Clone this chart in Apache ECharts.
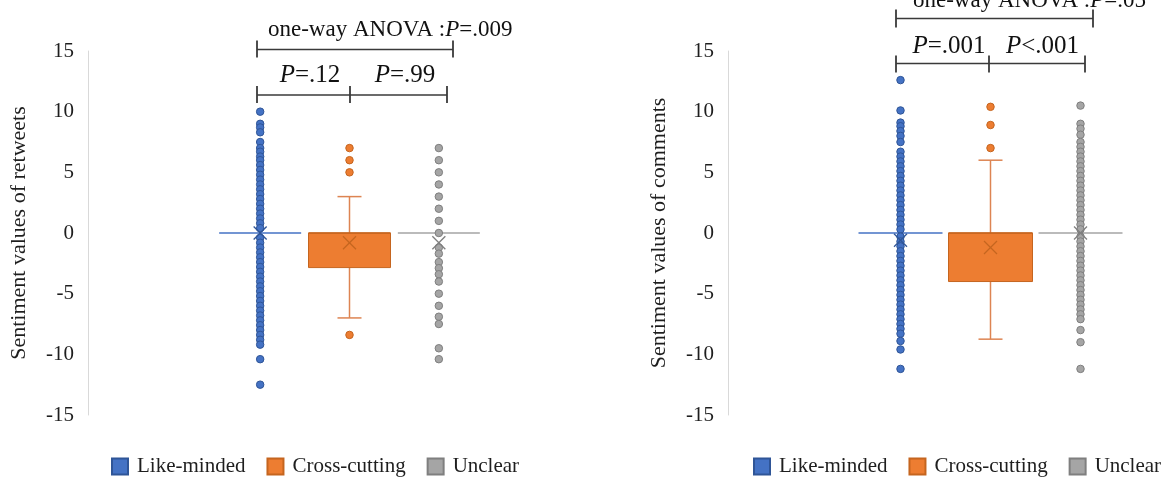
<!DOCTYPE html>
<html><head><meta charset="utf-8">
<script src="https://cdn.jsdelivr.net/npm/echarts@6/dist/echarts.min.js"></script>
<style>html,body{margin:0;padding:0;background:#fff}#c{width:1163px;height:480px}</style>
</head><body><div id="c"></div>
<script>
// ---------- data ----------
const groups = ['Like-minded', 'Cross-cutting', 'Unclear'];
const yTicks = [-15, -10, -5, 0, 5, 10, 15];

// Retweets panel: box statistics [min, Q1, median, Q3, max] per group, and means
const retweetStats = [[0, 0, 0, 0, 0], [-7, -2.85, 0, 0, 3], [0, 0, 0, 0, 0]];
const retweetMeans = [0, -0.8, -0.8];
const retweetLike = [10, 9, 8.7, 8.3, 7.5, 7, 6.7, 6.3, 6, 5.6, 5.2, 4.8, 4.4, 4, 3.6, 3.2, 2.8, 2.4, 2, 1.6, 1.2, 0.8, 0.4,
  -0.4, -0.8, -1.2, -1.6, -2, -2.4, -2.8, -3.2, -3.6, -4, -4.4, -4.8, -5.2, -5.6, -6, -6.4, -6.8, -7.2, -7.6, -8, -8.4, -8.8, -9.2, -10.4, -12.5];
const retweetCross = [7, 6, 5, -8.4];
const retweetUnclear = [7, 6, 5, 4, 3, 2, 1, 0, -1.2, -1.7, -2.4, -2.9, -3.4, -4, -5, -6, -6.9, -7.5, -9.5, -10.4];

// Comments panel
const commentStats = [[0, 0, 0, 0, 0], [-8.75, -4, 0, 0, 6], [0, 0, 0, 0, 0]];
const commentMeans = [-0.6, -1.2, 0];
const commentLike = [12.6, 10.1, 9.1, 8.8, 8.4, 8, 7.5, 6.7, 6.3, 5.9, 5.5, 5.1, 4.7, 4.3, 3.9, 3.5, 3.1, 2.7, 2.3, 1.9, 1.5, 1.1, 0.7, 0.3,
  -0.3, -0.7, -1.1, -1.5, -1.9, -2.3, -2.7, -3.1, -3.5, -3.9, -4.3, -4.7, -5.1, -5.5, -5.9, -6.3, -6.7, -7.1, -7.5, -7.9, -8.3, -8.9, -9.6, -11.2];
const commentCross = [10.4, 8.9, 7];
const commentUnclear = [10.5, 9, 8.6, 8.1, 7.5, 7.1, 6.7, 6.3, 5.9, 5.5, 5.1, 4.7, 4.3, 3.9, 3.5, 3.1, 2.7, 2.3, 1.9, 1.5, 1.1, 0.7, 0.3,
  -0.3, -0.7, -1.1, -1.5, -1.9, -2.3, -2.7, -3.1, -3.5, -3.9, -4.3, -4.7, -5.1, -5.5, -5.9, -6.3, -6.7, -7.1, -8, -9, -11.2];

const yTitles = ['Sentiment values of retweets', 'Sentiment values of comments'];

// ---------- styles ----------
const FONT = 'Liberation Serif';
const fill = ['#4472C4', '#ED7D31', '#A5A5A5'];
const dark = ['#2F5597', '#C5651F', '#7F7F7F'];
const whisk = ['#4472C4', '#DD8452', '#A5A5A5'];
const TXT = '#1e1e1e';

const panels = [
  { stats: retweetStats, means: retweetMeans, pts: [retweetLike, retweetCross, retweetUnclear], gridLeft: 215.5, gridWidth: 268, boxW: 82, axisX: 88 },
  { stats: commentStats, means: commentMeans, pts: [commentLike, commentCross, commentUnclear], gridLeft: 855.5, gridWidth: 270, boxW: 84, axisX: 728 }
];

function boxRenderer(boxW, capW) {
  return function (params, api) {
    const i = params.dataIndex;
    const c = api.value(0);
    const X = api.coord([c, 0])[0];
    const Y = v => api.coord([c, v])[1];
    const ymin = Y(api.value(1)), yq1 = Y(api.value(2)), ymed = Y(api.value(3)), yq3 = Y(api.value(4)), ymax = Y(api.value(5));
    const ch = [];
    if (ymax < yq3 - 0.5) {
      ch.push({ type: 'line', shape: { x1: X, y1: yq3, x2: X, y2: ymax }, style: { stroke: whisk[i], lineWidth: 1.5 } });
      ch.push({ type: 'line', shape: { x1: X - capW / 2, y1: ymax, x2: X + capW / 2, y2: ymax }, style: { stroke: whisk[i], lineWidth: 1.5 } });
    }
    if (ymin > yq1 + 0.5) {
      ch.push({ type: 'line', shape: { x1: X, y1: yq1, x2: X, y2: ymin }, style: { stroke: whisk[i], lineWidth: 1.5 } });
      ch.push({ type: 'line', shape: { x1: X - capW / 2, y1: ymin, x2: X + capW / 2, y2: ymin }, style: { stroke: whisk[i], lineWidth: 1.5 } });
    }
    if (yq1 - yq3 > 0.5) {
      ch.push({ type: 'rect', shape: { x: X - boxW / 2, y: yq3, width: boxW, height: yq1 - yq3 }, style: { fill: fill[i], stroke: dark[i], lineWidth: 1 } });
    }
    ch.push({ type: 'line', shape: { x1: X - boxW / 2, y1: ymed, x2: X + boxW / 2, y2: ymed }, style: { stroke: yq1 - yq3 > 0.5 ? dark[i] : fill[i], lineWidth: 1.5 } });
    return { type: 'group', children: ch };
  };
}
function meanRenderer(params, api) {
  const i = params.dataIndex;
  const p = api.coord([api.value(0), api.value(1)]);
  const h = 6.5;
  return { type: 'group', children: [
    { type: 'line', shape: { x1: p[0] - h, y1: p[1] - h, x2: p[0] + h, y2: p[1] + h }, style: { stroke: dark[i], lineWidth: 1.3 } },
    { type: 'line', shape: { x1: p[0] - h, y1: p[1] + h, x2: p[0] + h, y2: p[1] - h }, style: { stroke: dark[i], lineWidth: 1.3 } }
  ] };
}

const grid = [], xAxis = [], yAxis = [], series = [];
panels.forEach((P, k) => {
  grid.push({ left: P.gridLeft, width: P.gridWidth, top: 51, height: 364 });
  xAxis.push({ type: 'category', gridIndex: k, data: groups, axisLine: { show: false }, axisTick: { show: false }, axisLabel: { show: false }, splitLine: { show: false } });
  yAxis.push({
    type: 'value', gridIndex: k, min: yTicks[0], max: yTicks[yTicks.length - 1], interval: 5,
    offset: P.gridLeft - P.axisX,
    axisLine: { show: true, lineStyle: { color: '#D9D9D9', width: 1 } },
    axisTick: { show: false }, splitLine: { show: false },
    axisLabel: { color: TXT, fontFamily: FONT, fontSize: 21, margin: 14 },
    name: yTitles[k], nameLocation: 'middle', nameRotate: 90, nameGap: 58,
    nameTextStyle: { color: TXT, fontFamily: FONT, fontSize: 22 }
  });
  series.push({
    type: 'custom', xAxisIndex: k, yAxisIndex: k, z: 2, silent: true,
    renderItem: boxRenderer(P.boxW, 24),
    encode: { x: 0, y: [1, 2, 3, 4, 5] },
    data: P.stats.map((s, i) => [i].concat(s))
  });
  groups.forEach((g, i) => {
    series.push({
      type: 'scatter', name: g, xAxisIndex: k, yAxisIndex: k, z: 3,
      symbol: 'circle', symbolSize: 7.5,
      itemStyle: { color: fill[i], borderColor: dark[i], borderWidth: 1, opacity: 1 },
      data: P.pts[i].map(v => [i, v])
    });
  });
  series.push({
    type: 'custom', xAxisIndex: k, yAxisIndex: k, z: 4, silent: true,
    renderItem: meanRenderer, encode: { x: 0, y: 1 },
    data: P.means.map((m, i) => [i, m])
  });
});

const legendBase = {
  data: groups, top: 456, padding: 0, width: 420, icon: 'rect', itemWidth: 16, itemHeight: 16, itemGap: 21,
  textStyle: { fontFamily: FONT, fontSize: 21, color: TXT, padding: [0, 0, 0, 4] }
};

// ---------- annotations ----------
const LC = '#3a3a3a';
function hline(x1, x2, y) { return { type: 'line', shape: { x1, y1: y, x2, y2: y }, style: { stroke: LC, lineWidth: 1.5 } }; }
function vtick(x, y, up, down) { return { type: 'line', shape: { x1: x, y1: y - up, x2: x, y2: y + down }, style: { stroke: LC, lineWidth: 1.8 } }; }
function ptext(x, y, pre, rest, size, align) {
  return { type: 'text', x, y, style: {
    text: pre + '{i|P}' + rest, align: align, verticalAlign: 'middle',
    fontFamily: FONT, fontSize: size, fill: '#111',
    rich: { i: { fontStyle: 'italic', fontFamily: FONT, fontSize: size, fill: '#111' } }
  } };
}
const graphic = [
  // retweets
  ptext(268, 29.5, 'one-way ANOVA :', '=.009', 23, 'left'),
  hline(257, 453, 49.5), vtick(257, 49.5, 9, 8), vtick(453, 49.5, 9, 8),
  ptext(310, 75, '', '=.12', 25, 'center'),
  ptext(405, 75, '', '=.99', 25, 'center'),
  hline(257, 447, 95), vtick(257, 95, 9, 8), vtick(350, 95, 9, 8), vtick(447, 95, 9, 8),
  // comments
  ptext(913, 1, 'one-way ANOVA :', '=.05', 23, 'left'),
  hline(896, 1093, 18.5), vtick(896, 18.5, 9, 9), vtick(1093, 18.5, 9, 9),
  ptext(949, 46.5, '', '=.001', 25, 'center'),
  ptext(1042.5, 46.5, '', '<.001', 25, 'center'),
  hline(896, 1085, 63.5), vtick(896, 63.5, 8, 9), vtick(989, 63.5, 8, 9), vtick(1085, 63.5, 8, 9)
];

const chart = echarts.init(document.getElementById('c'), null, { renderer: 'canvas' });
chart.setOption({
  backgroundColor: '#ffffff',
  animation: false,
  grid, xAxis, yAxis, series,
  legend: [Object.assign({ left: 111 }, legendBase), Object.assign({ left: 753 }, legendBase)],
  graphic
});
</script></body></html>
